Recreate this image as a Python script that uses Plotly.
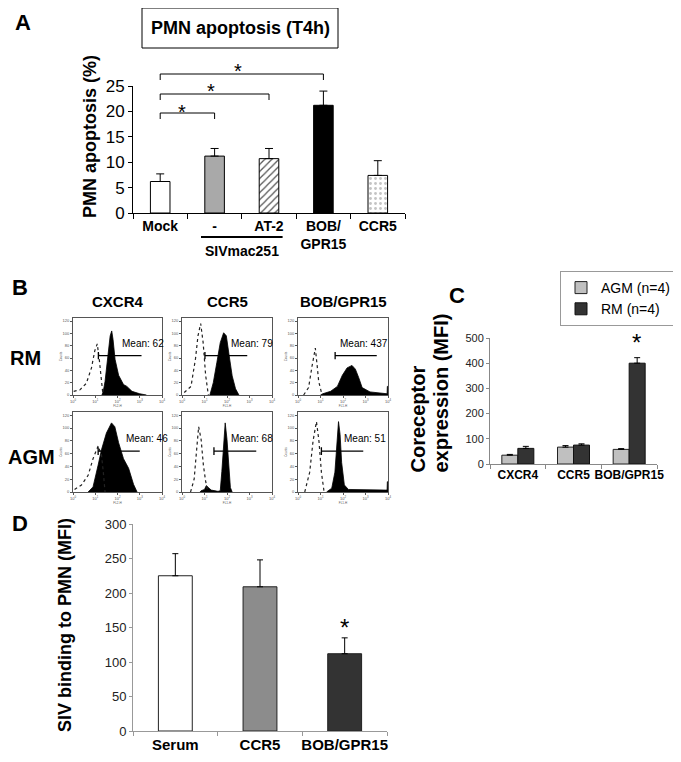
import plotly.graph_objects as go

W, H = 681, 762
OFF = 8  # the page body adds an 8 px margin around the figure; positions below are compensated for it
def fx(p): return (p - OFF) / W
def fy(p): return 1 - (p - OFF) / H

FONT = "Liberation Sans, Arial, sans-serif"
NARROW = "Liberation Sans Narrow, Arial Narrow, Liberation Sans, sans-serif"

# ---------------- Panel A data ----------------
a_cats = ["Mock", "-", "AT-2", "BOB/<br>GPR15", "CCR5"]
a_vals = [6.2, 11.2, 10.7, 21.2, 7.4]
a_err = [1.5, 1.5, 2.0, 2.8, 2.9]
a_ticks = [0, 5, 10, 15, 20, 25]
a_fill = ["white", "#a9a9a9", "white", "black", "white"]
a_pattern = ["", "", "/", "", "."]
a_pattern_fg = ["black", "black", "#555555", "black", "#c4c4c4"]

# ---------------- Panel C data ----------------
c_cats = ["CXCR4", "CCR5", "BOB/GPR15"]
c_agm = [35, 67, 58]
c_agm_err = [3, 6, 3]
c_rm = [62, 75, 400]
c_rm_err = [8, 5, 22]

# ---------------- Panel D data ----------------
d_cats = ["Serum", "CCR5", "BOB/GPR15"]
d_vals = [225, 209, 112]
d_err = [32, 39, 23]

# ---------------- Panel B data (flow histograms, x = log10 fluorescence, y = counts) ----------------
rm_cxcr4_fill_x = [1.30, 1.36, 1.44, 1.59, 1.67, 1.74, 1.80, 1.89, 2.05, 2.27, 2.42, 2.65, 3.0, 3.3]
rm_cxcr4_fill_y = [0, 6, 22, 68, 96, 104, 90, 58, 32, 17, 14, 6, 2, 0]
rm_cxcr4_iso_x = [0.03, 0.3, 0.6, 0.83, 0.98, 1.09, 1.18, 1.24, 1.33, 1.39]
rm_cxcr4_iso_y = [6, 8, 19, 44, 72, 83, 58, 32, 6, 0]

rm_ccr5_fill_x = [1.24, 1.39, 1.55, 1.70, 1.85, 1.97, 2.08, 2.23, 2.38, 2.53]
rm_ccr5_fill_y = [0, 20, 53, 85, 101, 96, 68, 31, 10, 0]
rm_ccr5_iso_x = [0.1, 0.4, 0.6, 0.71, 0.83, 0.94, 1.05, 1.17]
rm_ccr5_iso_y = [4, 14, 59, 96, 116, 85, 32, 0]

rm_bob_fill_x = [1.0, 1.1, 1.45, 1.75, 1.97, 2.18, 2.4, 2.55, 2.7, 2.85, 3.2, 3.8, 3.96, 3.97, 4.0]
rm_bob_fill_y = [0, 2, 6, 14, 32, 44, 48, 42, 28, 12, 5, 2, 2, 14, 14]
rm_bob_iso_x = [0.25, 0.47, 0.62, 0.77, 0.85, 0.92, 1.07]
rm_bob_iso_y = [0, 12, 46, 76, 48, 22, 0]

agm_cxcr4_fill_x = [0.68, 0.9, 1.13, 1.28, 1.5, 1.73, 1.88, 2.05, 2.27, 2.5, 2.72, 2.88]
agm_cxcr4_fill_y = [0, 8, 42, 66, 92, 108, 102, 77, 52, 37, 12, 0]
agm_cxcr4_iso_x = [0.07, 0.38, 0.68, 0.9, 1.13, 1.28, 1.36, 1.44]
agm_cxcr4_iso_y = [4, 11, 26, 52, 72, 58, 32, 0]

agm_ccr5_fill_x = [0.8, 0.85, 1.0, 1.08, 1.2, 1.3, 1.6, 1.7, 1.77, 1.85, 1.92, 2.0, 2.08, 2.15, 2.23]
agm_ccr5_fill_y = [0, 2, 4, 10, 6, 3, 1, 2, 32, 72, 108, 82, 32, 7, 0]
agm_ccr5_iso_x = [0.38, 0.54, 0.65, 0.74, 0.85, 0.95, 1.05, 1.15]
agm_ccr5_iso_y = [0, 20, 66, 102, 82, 42, 17, 0]

agm_bob_fill_x = [1.27, 1.5, 1.64, 1.72, 1.8, 1.87, 1.94, 2.06, 2.24, 3.88, 3.96, 3.97, 4.0]
agm_bob_fill_y = [0, 6, 31, 80, 110, 90, 46, 11, 4, 3, 3, 16, 16]
agm_bob_iso_x = [0.3, 0.52, 0.67, 0.82, 0.93, 1.04, 1.16]
agm_bob_iso_y = [0, 31, 80, 110, 80, 31, 0]

hist_fill = [(rm_cxcr4_fill_x, rm_cxcr4_fill_y), (rm_ccr5_fill_x, rm_ccr5_fill_y), (rm_bob_fill_x, rm_bob_fill_y),
             (agm_cxcr4_fill_x, agm_cxcr4_fill_y), (agm_ccr5_fill_x, agm_ccr5_fill_y), (agm_bob_fill_x, agm_bob_fill_y)]
hist_iso = [(rm_cxcr4_iso_x, rm_cxcr4_iso_y), (rm_ccr5_iso_x, rm_ccr5_iso_y), (rm_bob_iso_x, rm_bob_iso_y),
            (agm_cxcr4_iso_x, agm_cxcr4_iso_y), (agm_ccr5_iso_x, agm_ccr5_iso_y), (agm_bob_iso_x, agm_bob_iso_y)]
gate_start = [1.14, 1.02, 1.65, 1.13, 1.42, 1.04]
gate_end = [3.08, 2.9, 3.5, 3.0, 3.3, 2.9]
gate_level = 64
gate_tick = 6
mean_labels = ["Mean: 62", "Mean: 79", "Mean: 437", "Mean: 46", "Mean: 68", "Mean: 51"]
mean_text_x = [2.09, 2.07, 1.76, 2.27, 2.08, 1.94]
mean_text_y = 84
channel_labels = ["FL2-H", "FL1-H", "FL1-H", "FL2-H", "FL1-H", "FL1-H"]
b_cols = ["CXCR4", "CCR5", "BOB/GPR15"]
b_rows = ["RM", "AGM"]
hist_xticks = [0, 1, 2, 3, 4]
hist_yticks = [0, 20, 40, 60, 80, 100, 120]

fig = go.Figure()

# Panel A bars (one trace per bar so each can carry its own fill pattern)
for i in range(len(a_cats)):
    fig.add_trace(go.Bar(
        x=[a_cats[i]], y=[a_vals[i]], width=0.36, offset=-0.18, xaxis="x", yaxis="y", showlegend=False,
        marker=dict(color=a_fill[i], line=dict(color="black", width=1),
                    pattern=dict(shape=a_pattern[i], fgcolor=a_pattern_fg[i], bgcolor=a_fill[i],
                                 size=5, solidity=0.25, fillmode="replace")),
        error_y=dict(type="data", array=[a_err[i]], arrayminus=[0], symmetric=False,
                     color="black", thickness=1, width=4)))

# Panel C bars
fig.add_trace(go.Bar(x=c_cats, y=c_agm, name="AGM (n=4)", xaxis="x2", yaxis="y2",
                     marker=dict(color="#c0c0c0", line=dict(color="#222", width=1)),
                     error_y=dict(type="data", array=c_agm_err, arrayminus=[0] * 3, symmetric=False,
                                  color="black", thickness=1, width=3)))
fig.add_trace(go.Bar(x=c_cats, y=c_rm, name="RM (n=4)", xaxis="x2", yaxis="y2",
                     marker=dict(color="#333333", line=dict(color="#111", width=1)),
                     error_y=dict(type="data", array=c_rm_err, arrayminus=[0] * 3, symmetric=False,
                                  color="black", thickness=1, width=3)))

# Panel D bars
fig.add_trace(go.Bar(x=d_cats, y=d_vals, width=0.4, offset=-0.2, xaxis="x3", yaxis="y3", showlegend=False,
                     marker=dict(color=["white", "#8c8c8c", "#333333"], line=dict(color="#222", width=1)),
                     error_y=dict(type="data", array=d_err, arrayminus=[0] * 3, symmetric=False,
                                  color="black", thickness=1, width=3)))

# Panel B histograms
col_px = [(73, 162), (182, 272), (298, 388)]
row_px = [(318, 395), (412, 492)]
layout_axes = {}
shapes = []
annotations = []

def note(text, px, py, size, family=FONT, angle=0, xanchor="center", yanchor="middle", color="black"):
    annotations.append(dict(x=fx(px), y=fy(py), xref="paper", yref="paper", text=text, textangle=angle,
                            showarrow=False, xanchor=xanchor, yanchor=yanchor,
                            font=dict(size=size, family=family, color=color)))

for k in range(6):
    r, c = divmod(k, 3)
    n = 4 + k
    xa, ya = f"x{n}", f"y{n}"
    fxs, fys = hist_fill[k]
    ixs, iys = hist_iso[k]
    fig.add_trace(go.Scatter(x=fxs, y=fys, xaxis=xa, yaxis=ya, mode="lines", fill="tozeroy",
                             fillcolor="black", line=dict(color="black", width=0.8), showlegend=False))
    fig.add_trace(go.Scatter(x=ixs, y=iys, xaxis=xa, yaxis=ya, mode="lines",
                             line=dict(color="#222", width=1.2, dash="dot"), showlegend=False))
    fig.add_trace(go.Scatter(x=[gate_start[k], gate_start[k], gate_start[k], gate_end[k]],
                             y=[gate_level + gate_tick, gate_level - gate_tick, gate_level, gate_level],
                             xaxis=xa, yaxis=ya, mode="lines", line=dict(color="black", width=1.3),
                             showlegend=False))
    x0, x1 = col_px[c]
    y0, y1 = row_px[r]
    layout_axes[f"xaxis{n}"] = dict(domain=[fx(x0), fx(x1)], anchor=ya, range=[0, 4], showline=True, mirror=True,
                                    linecolor="#555", linewidth=1, ticks="outside", ticklen=2, tickcolor="#555",
                                    tickvals=hist_xticks, ticktext=[f"10<sup>{v}</sup>" for v in hist_xticks],
                                    tickfont=dict(size=4, color="#555"), showgrid=False, zeroline=False,
                                    automargin=False, tickangle=0,
                                    title=dict(text=channel_labels[k], font=dict(size=3, color="#555"), standoff=0))
    layout_axes[f"yaxis{n}"] = dict(domain=[fy(y1), fy(y0)], anchor=xa, range=[0, 125], showline=True, mirror=True,
                                    linecolor="#555", linewidth=1, ticks="outside", ticklen=2, tickcolor="#555",
                                    tickvals=hist_yticks, tickfont=dict(size=4, color="#555"),
                                    showgrid=False, zeroline=False, automargin=False,
                                    title=dict(text="Counts", font=dict(size=3, color="#555"), standoff=0))
    annotations.append(dict(x=mean_text_x[k], y=mean_text_y, xref=xa, yref=ya, text=mean_labels[k],
                            showarrow=False, xanchor="left", yanchor="middle",
                            font=dict(size=10, family=FONT, color="black")))

# column and row titles B
for c, name in enumerate(b_cols):
    cx = (col_px[c][0] + col_px[c][1]) / 2
    note(f"<b>{name}</b>", cx, 301, 15)
note("<b>RM</b>", 25, 358, 20)
note("<b>AGM</b>", 31, 457, 20)

# Panel letters
for letter, px, py in [("A", 23, 22), ("B", 20, 288), ("C", 457, 295), ("D", 20, 523)]:
    note(f"<b>{letter}</b>", px, py, 22)

# Panel A title box
shapes.append(dict(type="rect", xref="paper", yref="paper", x0=fx(142), x1=fx(338), y0=fy(48), y1=fy(8),
                   line=dict(color="black", width=1), fillcolor="white", layer="below"))
note("<b>PMN apoptosis (T4h)</b>", 240, 28, 18)
note("<b>PMN apoptosis (%)</b>", 90, 137, 18, angle=-90)
# SIVmac251 grouping
shapes.append(dict(type="line", xref="x", yref="paper", x0=0.75, x1=2.25, y0=fy(237), y1=fy(237),
                   line=dict(color="black", width=2)))
annotations.append(dict(x=1.5, y=fy(251), xref="x", yref="paper", text="<b>SIVmac251</b>",
                        showarrow=False, xanchor="center", yanchor="middle",
                        font=dict(size=14, family=NARROW, color="black")))
# significance brackets (top of bracket, star position, star glyph centre; all in reference pixels)
brackets = [(0, 1, 113, 0.40, 108), (0, 2, 94, 0.94, 87), (0, 3, 74, 1.43, 67)]
for i0, i1, top, sx, sy in brackets:
    for xs, ys in [((i0, i0), (top + 6, top)), ((i0, i1), (top, top)), ((i1, i1), (top, top + 6))]:
        shapes.append(dict(type="line", xref="x", yref="paper", x0=xs[0], x1=xs[1], y0=fy(ys[0]), y1=fy(ys[1]),
                           line=dict(color="black", width=1)))
    annotations.append(dict(x=sx, y=fy(sy + 4), xref="x", yref="paper", text="*", showarrow=False,
                            xanchor="center", yanchor="middle", font=dict(size=20, family=FONT, color="black")))

# Panel C labels
note("<b>Coreceptor</b>", 417, 475, 20, angle=-90, yanchor="bottom")
note("<b>expression (MFI)</b>", 440, 475, 20, angle=-90, yanchor="bottom")
annotations.append(dict(x=2.14, y=fy(343), xref="x2", yref="paper", text="*", showarrow=False,
                        xanchor="center", yanchor="middle", font=dict(size=24, family=FONT, color="black")))

# Panel D labels
note("<b>SIV binding to PMN (MFI)</b>", 65, 625, 18, angle=-90)
annotations.append(dict(x=2, y=fy(627), xref="x3", yref="paper", text="*", showarrow=False,
                        xanchor="center", yanchor="middle", font=dict(size=24, family=FONT, color="black")))

fig.update_layout(
    template="none",
    width=W, height=H, margin=dict(l=0, r=0, t=0, b=0, pad=0, autoexpand=False),
    paper_bgcolor="white", plot_bgcolor="rgba(0,0,0,0)",
    font=dict(family=FONT, color="black"),
    barmode="group", bargap=0.425, bargroupgap=0,
    xaxis=dict(domain=[fx(133), fx(405)], anchor="y", showline=True, linecolor="black", linewidth=1,
               ticks="outside", ticklen=5, tickson="boundaries", tickcolor="black", tickangle=0, automargin=False,
               tickfont=dict(size=14, family=NARROW, color="black"), tickprefix="<b>", ticksuffix="</b>",
               showgrid=False, zeroline=False),
    yaxis=dict(domain=[fy(213), fy(86)], anchor="x", range=[0, 25], tickvals=a_ticks, showline=True,
               linecolor="black", linewidth=1, ticks="outside", ticklen=4, tickcolor="black", automargin=False,
               tickfont=dict(size=17, family=NARROW, color="black"), showgrid=False, zeroline=False),
    xaxis2=dict(domain=[fx(490), fx(657)], anchor="y2", showline=True, linecolor="#888", linewidth=1,
                ticks="outside", ticklen=4, tickson="boundaries", tickcolor="#888", tickangle=0, automargin=False,
                tickfont=dict(size=12, family=FONT, color="black"), tickprefix="<b>", ticksuffix="</b>",
                showgrid=False, zeroline=False),
    yaxis2=dict(domain=[fy(464), fy(338)], anchor="x2", range=[0, 500], dtick=100, showline=True,
                linecolor="#888", linewidth=1, ticks="outside", ticklen=3, tickcolor="#888", automargin=False,
                tickfont=dict(size=11, family=FONT, color="#222"), showgrid=False, zeroline=False),
    xaxis3=dict(domain=[fx(133), fx(387)], anchor="y3", showline=True, linecolor="#999", linewidth=1,
                ticks="outside", ticklen=4, tickson="boundaries", tickcolor="#999", tickangle=0, automargin=False,
                tickfont=dict(size=15, family=FONT, color="black"), tickprefix="<b>", ticksuffix="</b>",
                showgrid=False, zeroline=False),
    yaxis3=dict(domain=[fy(731), fy(524)], anchor="x3", range=[0, 300], dtick=50, showline=True,
                linecolor="#999", linewidth=1, ticks="outside", ticklen=3, tickcolor="#999", automargin=False,
                tickfont=dict(size=13, family=FONT, color="#222"), showgrid=False, zeroline=False),
    legend=dict(x=fx(560), y=fy(271), xanchor="left", yanchor="top", bordercolor="#999", borderwidth=1,
                bgcolor="white", font=dict(size=14, family=FONT, color="black"), itemwidth=30,
                tracegroupgap=0),
    shapes=shapes, annotations=annotations,
    **layout_axes,
)

fig.write_html("out.html")
